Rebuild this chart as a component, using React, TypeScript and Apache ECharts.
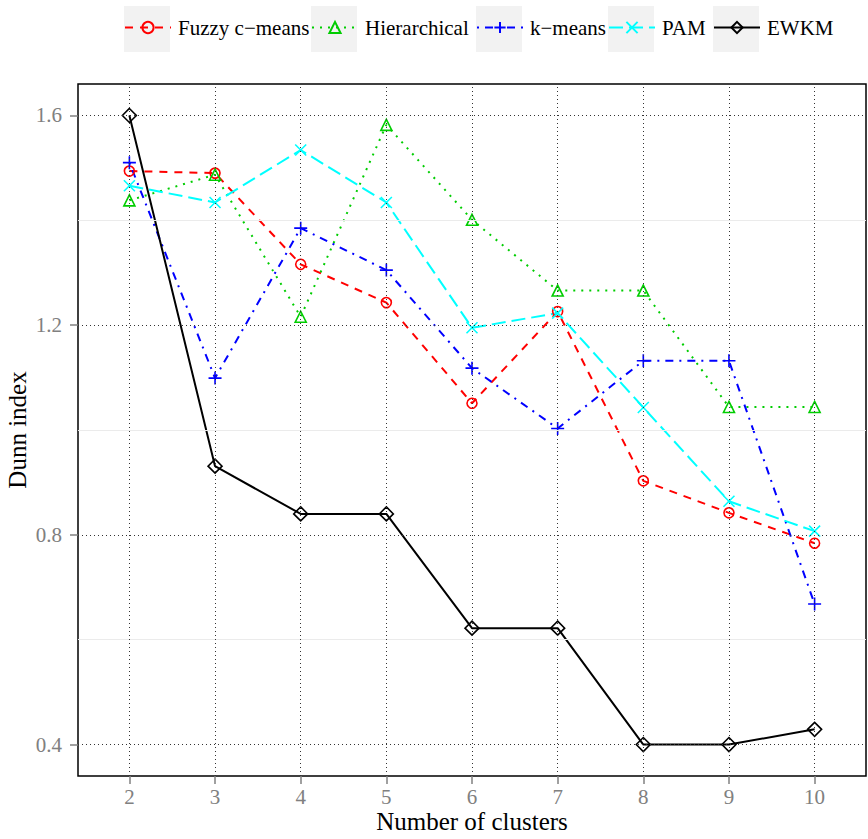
import React, { useEffect, useRef } from "react";
import * as echarts from "echarts";

// Number of clusters on the x axis
const clusters = [2, 3, 4, 5, 6, 7, 8, 9, 10];

// Dunn index per method
const fuzzyCMeans = [1.494, 1.49, 1.316, 1.243, 1.051, 1.226, 0.903, 0.842, 0.784];
const hierarchical = [1.438, 1.487, 1.216, 1.582, 1.401, 1.266, 1.266, 1.044, 1.044];
const kMeans = [1.51, 1.099, 1.385, 1.305, 1.118, 1.003, 1.132, 1.132, 0.668];
const pam = [1.466, 1.434, 1.534, 1.434, 1.195, 1.223, 1.043, 0.864, 0.807];
const ewkm = [1.6, 0.931, 0.84, 0.84, 0.622, 0.622, 0.4, 0.4, 0.429];

// Axis ticks
const yTicks = [0.4, 0.8, 1.2, 1.6];
const yMinorTicks = [0.6, 1.0, 1.4];

const SERIF = "Liberation Serif";

const PLUS = "path://M0,5L10,5M5,0L5,10";
const CROSS = "path://M0,0L10,10M10,0L0,10";

const methods = [
  { name: "Fuzzy c\u2212means", values: fuzzyCMeans, color: "#FF0000", dash: [8, 7] as any, symbol: "circle", size: 10 },
  { name: "Hierarchical", values: hierarchical, color: "#00CD00", dash: [2, 6] as any, symbol: "triangle", size: 11 },
  { name: "k\u2212means", values: kMeans, color: "#0000FF", dash: [2, 6, 8, 6] as any, symbol: PLUS, size: 13 },
  { name: "PAM", values: pam, color: "#00FFFF", dash: [14, 6] as any, symbol: CROSS, size: 11 },
  { name: "EWKM", values: ewkm, color: "#000000", dash: "solid" as any, symbol: "diamond", size: 14 },
];

// left edge of each legend key box
const legendKeyLeft = [124, 311, 476, 608, 713];
const KEY_SIZE = 46;
const KEY_TOP = 6;

export default function App() {
  const ref = useRef<HTMLDivElement>(null);

  useEffect(() => {
    if (!ref.current) return;
    const chart = echarts.init(ref.current, undefined, { renderer: "svg" });

    const majorGrid = { color: "#333333", type: [1, 3] as any, width: 1 };
    const minorGrid = { color: "#EBEBEB", type: "solid" as any, width: 1 };

    const lineSeries = methods.map((m) => ({
      type: "line",
      name: m.name,
      data: clusters.map((c, i) => [c, m.values[i]]),
      symbol: m.symbol,
      symbolSize: m.size,
      showSymbol: true,
      z: 3,
      lineStyle: { color: m.color, width: 2, type: m.dash },
      itemStyle: { color: "rgba(0,0,0,0)", borderColor: m.color, borderWidth: 1.6 },
      emphasis: { disabled: true },
    }));

    const gridSeries = {
      type: "line",
      name: "gridlines",
      data: [],
      silent: true,
      z: 1,
      markLine: {
        silent: true,
        animation: false,
        symbol: ["none", "none"],
        label: { show: false },
        emphasis: { disabled: true },
        data: [
          ...yMinorTicks.map((v) => ({ yAxis: v, lineStyle: minorGrid })),
          ...yTicks.map((v) => ({ yAxis: v, lineStyle: majorGrid })),
          ...clusters.map((v) => ({ xAxis: v, lineStyle: majorGrid })),
        ],
      },
    };

    chart.setOption({
      animation: false,
      backgroundColor: "#FFFFFF",
      textStyle: { fontFamily: SERIF },
      grid: {
        left: 78,
        right: 2,
        top: 84,
        bottom: 63,
        containLabel: false,
        outerBoundsMode: "none",
        show: true,
        borderColor: "#000000",
        borderWidth: 1.5,
        backgroundColor: "transparent",
      },
      xAxis: {
        type: "value",
        min: 1.4,
        max: 10.6,
        axisLine: { show: false },
        axisTick: { show: true, customValues: clusters, length: 8, lineStyle: { color: "#808080", width: 1.5 } },
        axisLabel: { customValues: clusters, margin: 10, color: "#808080", fontSize: 21, fontFamily: SERIF },
        splitLine: { show: false },
        name: "Number of clusters",
        nameLocation: "middle",
        nameGap: 33,
        nameMoveOverlap: false,
        nameTextStyle: { color: "#000000", fontSize: 25, fontFamily: SERIF },
      },
      yAxis: {
        type: "value",
        min: 0.34,
        max: 1.66,
        axisLine: { show: false },
        axisTick: { show: true, customValues: yTicks, length: 8, lineStyle: { color: "#808080", width: 1.5 } },
        axisLabel: {
          customValues: yTicks,
          margin: 16,
          color: "#808080",
          fontSize: 21,
          fontFamily: SERIF,
          formatter: (v: number) => v.toFixed(1),
        },
        splitLine: { show: false },
        name: "Dunn index",
        nameLocation: "middle",
        nameGap: 48,
        nameMoveOverlap: false,
        nameTextStyle: { color: "#000000", fontSize: 25, fontFamily: SERIF },
      },
      legend: methods.map((m, i) => ({
        data: [m.name],
        left: legendKeyLeft[i],
        top: 17,
        padding: 0,
        itemWidth: KEY_SIZE,
        itemHeight: 14,
        selectedMode: false,
        textStyle: { fontSize: 21, fontFamily: SERIF, color: "#000000", padding: [0, 0, 0, 2] },
      })),
      graphic: legendKeyLeft.map((x) => ({
        type: "rect",
        silent: true,
        z: 0,
        shape: { x, y: KEY_TOP, width: KEY_SIZE, height: KEY_SIZE },
        style: { fill: "#F2F2F2" },
      })),
      series: [gridSeries, ...lineSeries],
    });

    return () => chart.dispose();
  }, []);

  return (
    <div
      ref={ref}
      style={{ position: "fixed", left: 0, top: 0, width: 868, height: 839 }}
    />
  );
}
